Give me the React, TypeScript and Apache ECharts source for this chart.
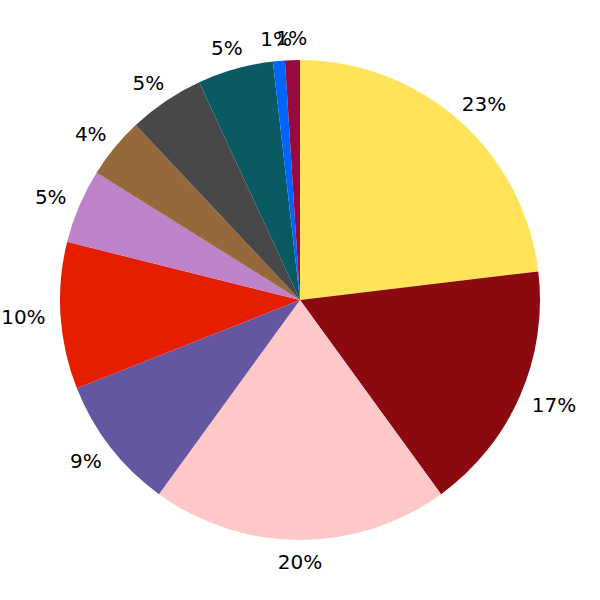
import React, { useEffect, useRef } from "react";
import * as echarts from "echarts";

const categories = [
  "Yellow", "Dark red", "Pink", "Purple", "Red", "Lilac",
  "Brown", "Gray", "Teal", "Blue", "Crimson",
];
const values = [23.1, 16.9, 20.0, 9.0, 9.9, 5.0, 4.1, 5.1, 5.1, 0.8, 1.0];
const colors = [
  "#FFE45A", "#8B0A10", "#FFC8C8", "#6456A0", "#E61E00", "#BE82C8",
  "#96693C", "#484848", "#0A5A64", "#0064FF", "#960A3C",
];

const CX = 300;
const CY = 300;
const R = 240;
const LABEL_R = 255;

export default function App() {
  const ref = useRef<HTMLDivElement>(null);
  useEffect(() => {
    if (!ref.current) return;
    const chart = echarts.init(ref.current, null, { renderer: "svg" });
    const total = values.reduce((a, b) => a + b, 0);
    const mids: number[] = [];
    let acc = 0;
    values.forEach((v) => {
      mids.push(((acc + v / 2) / total) * Math.PI * 2);
      acc += v;
    });
    chart.setOption({
      animation: false,
      backgroundColor: "#ffffff",
      series: [
        {
          type: "pie",
          center: [CX, CY],
          radius: R,
          startAngle: 90,
          clockwise: true,
          avoidLabelOverlap: false,
          itemStyle: { borderWidth: 0 },
          emphasis: { disabled: true },
          label: {
            show: true,
            position: "outside",
            fontFamily: "DejaVu Sans",
            fontSize: 20,
            color: "#000000",
            formatter: (p: any) => Math.round(p.percent) + "%",
          },
          labelLine: { show: false },
          labelLayout: (params: any) => {
            const a = mids[params.dataIndex];
            const dx = Math.sin(a);
            const dy = -Math.cos(a);
            const w = params.labelRect.width;
            const h = 14;
            return {
              x: CX + dx * (LABEL_R + w / 2),
              y: CY + dy * (LABEL_R + h / 2),
              align: "center",
              verticalAlign: "middle",
            };
          },
          data: categories.map((name, i) => ({
            name,
            value: values[i],
            itemStyle: { color: colors[i] },
          })),
        },
      ],
    });
    return () => chart.dispose();
  }, []);
  return (
    <div
      ref={ref}
      style={{ position: "absolute", left: 0, top: 0, width: 600, height: 600 }}
    />
  );
}
